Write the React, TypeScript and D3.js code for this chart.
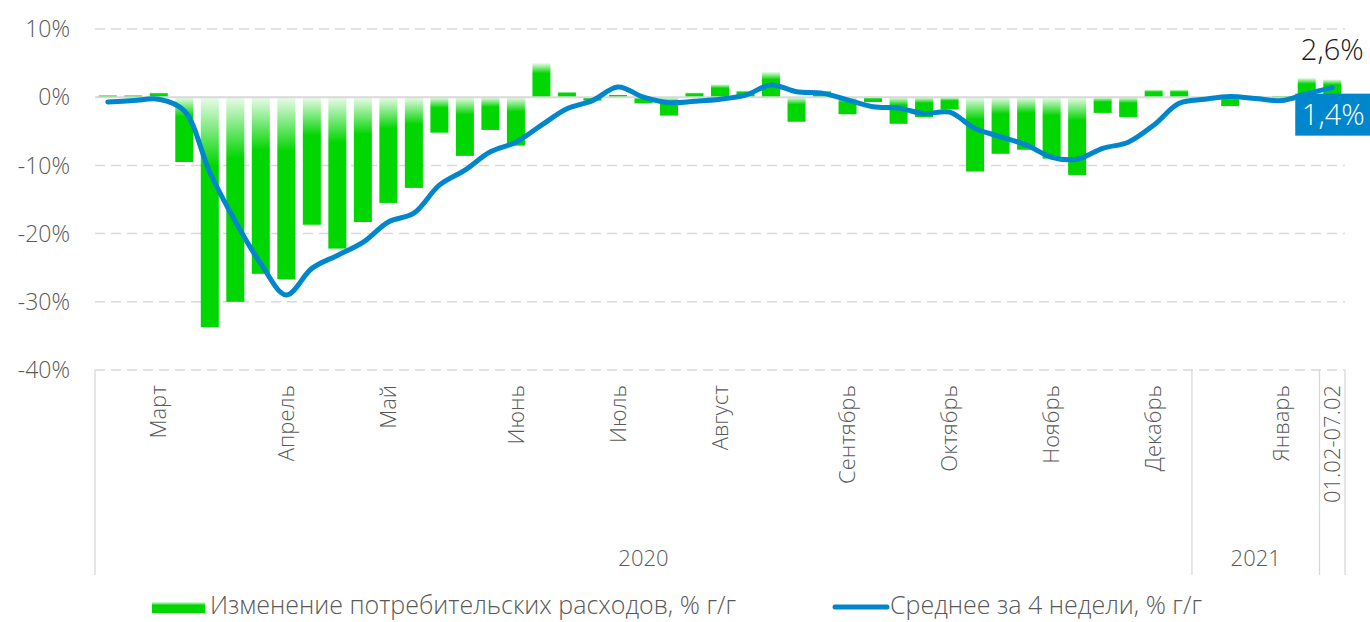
import React from "react";
import * as d3 from "d3";

// ---- data ----
const categoryLabels: string[] = [
  "", "", "Март", "", "", "", "", "Апрель", "", "", "", "Май", "", "", "", "",
  "Июнь", "", "", "", "Июль", "", "", "", "Август", "", "", "", "", "Сентябрь",
  "", "", "", "Октябрь", "", "", "", "Ноябрь", "", "", "", "Декабрь", "",
  "", "", "", "Январь", "", "01.02-07.02",
];

const yearGroups = [
  { label: "2020", start: 0, end: 42 },
  { label: "2021", start: 43, end: 47 },
  { label: "", start: 48, end: 48 },
];

const spendingChange: number[] = [
  0.3, 0.3, 0.7, -9.5, -33.7, -30.0, -25.9, -26.7, -18.7, -22.2,
  -18.3, -15.5, -13.3, -5.2, -8.6, -4.8, -7.1, 5.0, 0.8, -0.5,
  0.4, -0.9, -2.7, 0.7, 1.9, 1.0, 3.7, -3.6, 1.0, -2.5,
  -0.7, -3.9, -2.9, -1.8, -10.9, -8.3, -7.7, -9.0, -11.4, -2.3,
  -2.9, 1.1, 1.1, 0.1, -1.3, -0.2, 0.2, 2.8, 2.6,
];

const avg4Weeks: number[] = [
  -0.7, -0.5, -0.3, -2.0, -11.0, -18.2, -24.4, -29.0, -25.1, -23.2,
  -21.3, -18.3, -17.0, -12.9, -10.7, -8.0, -6.6, -4.1, -1.7, -0.5,
  1.5, 0.0, -0.8, -0.6, -0.3, 0.3, 1.8, 0.8, 0.6, -0.4,
  -1.4, -1.6, -2.4, -2.2, -4.6, -5.8, -7.0, -8.8, -9.1, -7.5,
  -6.6, -4.1, -0.9, -0.3, 0.1, -0.2, -0.5, 0.5, 1.4,
];

const yTicks: number[] = [10, 0, -10, -20, -30, -40];

const legendBars = "Изменение потребительских расходов, % г/г";
const legendLine = "Среднее за 4 недели, % г/г";

// ---- styles ----
const GREEN = "#00d600";
const BLUE = "#0086cc";
const GRID = "#d9d9d9";
const TEXT = "#595959";
const FONT = "'Open Sans', 'Noto Sans', sans-serif";

export default function App() {
  const W = 1370;
  const H = 622;
  const left = 95;
  const right = 1345;
  const top = 29;
  const bottom = 370;

  const idx = spendingChange.map((_, i) => i);
  const x = d3
    .scaleBand<number>()
    .domain(idx)
    .range([left, right])
    .paddingInner(0.294)
    .paddingOuter(0.147);
  const bw = x.bandwidth();
  const cx = (i: number) => (x(i) as number) + bw / 2;
  const y = d3.scaleLinear().domain([-40, 10]).range([bottom, top]);
  const step = x.step();
  const boundary = (i: number) => left + step * i;

  const line = d3
    .line<number>()
    .x((_, i) => cx(i))
    .y((d) => y(d))
    .curve(d3.curveCatmullRom.alpha(0.5));

  const n = spendingChange.length;
  const lastX = cx(n - 1);
  const lastBar = spendingChange[n - 1];
  const lastAvg = avg4Weeks[n - 1];
  const fmt = (v: number) => v.toFixed(1).replace(".", ",") + "%";

  const sepXs = [left, ...yearGroups.slice(1).map((g) => boundary(g.start)), right];

  return (
    <svg
      width={W}
      height={H}
      style={{ position: "absolute", left: 0, top: 0, background: "#fff" }}
      fontFamily={FONT}
      fontWeight={300}
    >
      <defs>
        <linearGradient id="barGrad" x1="0" y1="0" x2="0" y2="1">
          <stop offset="0" stopColor={GREEN} stopOpacity={0.08} />
          <stop offset="0.3" stopColor={GREEN} stopOpacity={1} />
          <stop offset="1" stopColor={GREEN} stopOpacity={1} />
        </linearGradient>
      </defs>

      {/* gridlines */}
      {yTicks.map((t) =>
        t === 0 ? null : (
          <line
            key={"g" + t}
            x1={left}
            x2={right}
            y1={y(t)}
            y2={y(t)}
            stroke={GRID}
            strokeWidth={1.5}
            strokeDasharray="10,6"
          />
        )
      )}

      {/* y labels */}
      {yTicks.map((t) => (
        <text
          key={"yl" + t}
          x={70}
          y={y(t)}
          dy="0.36em"
          textAnchor="end"
          fontSize={23}
          fill={TEXT}
        >
          {t + "%"}
        </text>
      ))}

      {/* bars */}
      {spendingChange.map((v, i) => (
        <rect
          key={"b" + i}
          x={x(i)}
          y={Math.min(y(v), y(0))}
          width={bw}
          height={Math.abs(y(v) - y(0))}
          fill="url(#barGrad)"
        />
      ))}

      {/* zero line */}
      <line x1={left} x2={right} y1={y(0)} y2={y(0)} stroke={GRID} strokeWidth={2} />

      {/* avg line */}
      <path
        d={line(avg4Weeks) || ""}
        fill="none"
        stroke={BLUE}
        strokeWidth={5}
        strokeLinecap="round"
        strokeLinejoin="round"
      />

      {/* category separators */}
      {sepXs.map((sx, k) => (
        <line key={"s" + k} x1={sx} x2={sx} y1={bottom} y2={575} stroke={GRID} strokeWidth={1.3} />
      ))}

      {/* category labels */}
      {categoryLabels.map((lab, i) =>
        lab ? (
          <text
            key={"c" + i}
            transform={`translate(${cx(i)},385) rotate(-90)`}
            dy="0.35em"
            textAnchor="end"
            fontSize={22}
            fill={TEXT}
          >
            {lab}
          </text>
        ) : null
      )}

      {/* year labels */}
      {yearGroups.map((g) =>
        g.label ? (
          <text
            key={"yr" + g.label}
            x={(boundary(g.start) + boundary(g.end + 1)) / 2}
            y={558}
            dy="0.35em"
            textAnchor="middle"
            fontSize={22}
            fill={TEXT}
          >
            {g.label}
          </text>
        ) : null
      )}

      {/* annotations */}
      <text x={lastX} y={y(lastBar) - 19} textAnchor="middle" fontSize={29} fill="#1a1a1a">
        {fmt(lastBar)}
      </text>
      <rect x={lastX - 37} y={y(lastAvg) + 6} width={80} height={42} fill={BLUE} />
      <text x={lastX + 1} y={y(lastAvg) + 27} dy="0.36em" textAnchor="middle" fontSize={29} fill="#fff">
        {fmt(lastAvg)}
      </text>

      {/* legend */}
      <rect x={152} y={602} width={53} height={11} fill="url(#barGrad)" />
      <text x={210} y={605} dy="0.36em" fontSize={25} fill={TEXT}>
        {legendBars}
      </text>
      <line x1={835} x2={887} y1={607} y2={607} stroke={BLUE} strokeWidth={5} strokeLinecap="round" />
      <text x={890} y={605} dy="0.36em" fontSize={25} fill={TEXT}>
        {legendLine}
      </text>
    </svg>
  );
}
